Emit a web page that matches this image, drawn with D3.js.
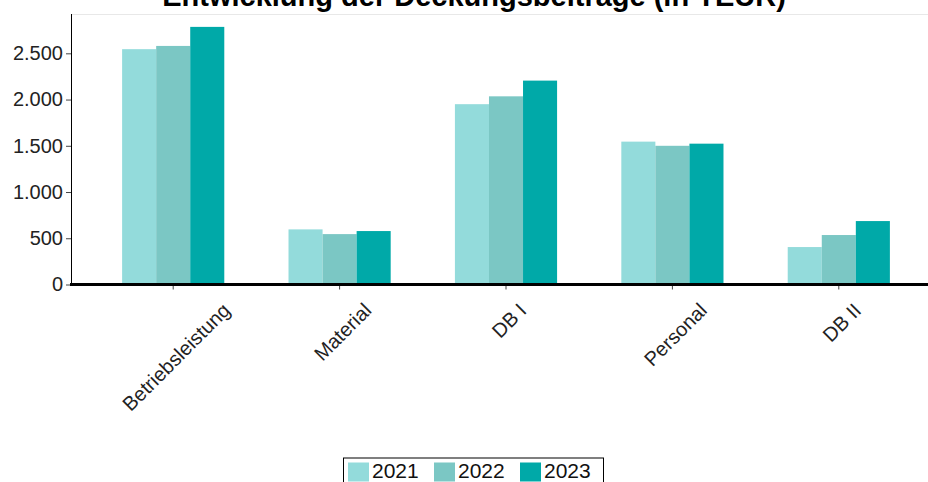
<!DOCTYPE html>
<html>
<head>
<meta charset="utf-8">
<script src="https://cdn.jsdelivr.net/npm/d3@7"></script>
<style>
  body { margin: 0; background: #fff; }
  text { font-family: "Liberation Sans", Arial, sans-serif; }
</style>
</head>
<body>
<svg id="graph" width="928" height="482"></svg>
<script>
// data
const categories = ['Betriebsleistung', 'Material', 'DB I', 'Personal', 'DB II'];
const years = ['2021', '2022', '2023'];
const v2021 = [2545, 596, 1950, 1545, 405];
const v2022 = [2580, 545, 2035, 1500, 535];
const v2023 = [2786, 578, 2205, 1523, 686];
const yTicks = [0, 500, 1000, 1500, 2000, 2500];
const colors = ['#93dbdb', '#7bc7c4', '#00a9a8'];

const series = [v2021, v2022, v2023];
const rows = categories.map((c, i) => ({ cat: c, values: years.map((y, j) => ({ year: y, value: series[j][i] })) }));

const svg = d3.select('#graph');
const margin = { top: 14, left: 71, bottom: 284.5, right: 928 };

const de = d3.formatLocale({ decimal: ',', thousands: '.', grouping: [3], currency: ['', ' €'] });
const fmt = de.format(',');

const maxVal = d3.max(series.flat());

const xScale = d3.scaleBand()
    .domain(categories)
    .range([90, 922])
    .paddingInner(0.386)
    .paddingOuter(0.193);

const xInner = d3.scaleBand()
    .domain(years)
    .range([0, xScale.bandwidth()]);

const yScale = d3.scaleLinear()
    .domain([0, maxVal * 1.05])
    .range([margin.bottom, margin.top]);

// title (cut off at the top, like the original)
svg.append('text')
   .attr('x', 474)
   .attr('y', 6)
   .attr('text-anchor', 'middle')
   .style('font-size', '29px')
   .style('font-weight', 'bold')
   .text('Entwicklung der Deckungsbeiträge (in TEUR)');

// faint plot border on top
svg.append('line')
   .attr('x1', margin.left).attr('x2', margin.right)
   .attr('y1', margin.top + 0.5).attr('y2', margin.top + 0.5)
   .attr('stroke', '#e8e8e8');

// bars
const group = svg.selectAll('.group').data(rows).enter().append('g')
    .attr('class', 'group')
    .attr('transform', d => `translate(${xScale(d.cat)},0)`);

group.selectAll('rect').data(d => d.values).enter().append('rect')
    .attr('x', d => xInner(d.year))
    .attr('width', xInner.bandwidth())
    .attr('y', d => yScale(d.value))
    .attr('height', d => yScale(0) - yScale(d.value))
    .attr('fill', (d, i) => colors[i]);

// y axis
const yAxis = d3.axisLeft(yScale)
    .tickValues(yTicks)
    .tickFormat(fmt)
    .tickSize(5)
    .tickPadding(3);

const gy = svg.append('g')
   .attr('transform', `translate(${margin.left},0)`)
   .call(yAxis);
gy.select('.domain').attr('d', `M0.5,${margin.top}V${margin.bottom}`).attr('stroke', '#000');
gy.selectAll('.tick line').attr('stroke', '#444');
gy.selectAll('.tick text')
  .style('font-size', '20px')
  .style('font-family', '"Liberation Sans", Arial, sans-serif')
  .attr('fill', '#222');

// x axis: thick base line + small ticks
svg.append('line')
   .attr('x1', margin.left - 1).attr('x2', margin.right)
   .attr('y1', margin.bottom).attr('y2', margin.bottom)
   .attr('stroke', '#000')
   .attr('stroke-width', 3);

svg.selectAll('.xtick').data(categories).enter().append('line')
   .attr('class', 'xtick')
   .attr('x1', d => xScale(d) + xScale.bandwidth() / 2)
   .attr('x2', d => xScale(d) + xScale.bandwidth() / 2)
   .attr('y1', margin.bottom + 1.5)
   .attr('y2', margin.bottom + 5)
   .attr('stroke', '#444');

// rotated category labels, box top fixed below the axis
const labelTop = 299;
const labelSize = 20;
svg.selectAll('.xlabel').data(categories).enter().append('text')
   .attr('class', 'xlabel')
   .attr('text-anchor', 'middle')
   .attr('dominant-baseline', 'central')
   .style('font-size', labelSize + 'px')
   .attr('fill', '#222')
   .text(d => d)
   .each(function(d) {
       const L = this.getComputedTextLength();
       const half = (L + labelSize * 1.1) / (2 * Math.SQRT2);
       const cx = xScale(d) + xScale.bandwidth() / 2 + 3;
       const cy = labelTop + half;
       d3.select(this).attr('transform', `translate(${cx},${cy}) rotate(-45)`);
   });

// legend
const legend = svg.append('g').attr('transform', 'translate(343,457.5)');
legend.append('rect')
   .attr('x', 0.5).attr('y', 0.5)
   .attr('width', 260).attr('height', 30)
   .attr('fill', '#fff')
   .attr('stroke', '#000');

const item = legend.selectAll('.item').data(years).enter().append('g')
   .attr('class', 'item')
   .attr('transform', (d, i) => `translate(${5 + i * 86},5)`);
item.append('rect')
   .attr('width', 21).attr('height', 19)
   .attr('fill', (d, i) => colors[i]);
item.append('text')
   .attr('x', 24).attr('y', 15.5)
   .style('font-size', '21px')
   .attr('fill', '#111')
   .text(d => d);
</script>
</body>
</html>
